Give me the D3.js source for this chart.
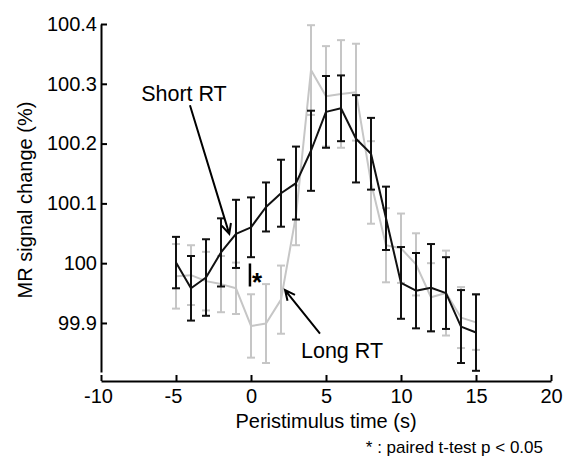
<!DOCTYPE html>
<html>
<head>
<meta charset="utf-8">
<script src="https://cdn.jsdelivr.net/npm/d3@7"></script>
<style>
  html, body { margin: 0; padding: 0; background: #fff; }
  svg { display: block; font-family: "Liberation Sans", Arial, sans-serif; }
</style>
</head>
<body>
<svg id="chart" width="567" height="457"></svg>
<script>
// ---- data ----
const times = [-5,-4,-3,-2,-1,0,1,2,3,4,5,6,7,8,9,10,11,12,13,14,15];
const shortMean = [100.001,99.958,99.976,100.018,100.049,100.060,100.094,100.117,100.134,100.188,100.253,100.259,100.208,100.183,100.075,99.967,99.954,99.959,99.950,99.894,99.884];
const shortErr  = [0.043,0.054,0.064,0.057,0.057,0.050,0.041,0.056,0.061,0.067,0.060,0.055,0.073,0.060,0.053,0.060,0.063,0.073,0.060,0.061,0.064];
const longMean  = [99.978,99.980,99.970,99.965,99.958,99.895,99.899,99.939,100.080,100.323,100.279,100.283,100.286,100.135,100.030,100.025,99.998,99.943,99.950,99.909,99.901];
const longErr   = [0.054,0.050,0.049,0.047,0.043,0.053,0.066,0.057,0.050,0.075,0.084,0.090,0.081,0.069,0.062,0.058,0.052,0.057,0.071,0.051,0.046];
const xTicks = [-10,-5,0,5,10,15,20];
const xTickLabels = ["-10","-5","0","5","10","15","20"];
const yTicks = [99.9,100,100.1,100.2,100.3,100.4];
const yTickLabels = ["99.9","100","100.1","100.2","100.3","100.4"];

const svg = d3.select("#chart");
const x = d3.scaleLinear().domain([-10, 20]).range([101, 551]);
const y = d3.scaleLinear().domain([99.818, 100.4]).range([372, 24]);

// ---- axes (inward ticks, offset like MATLAB) ----
const xAxisY = 381;
const gx = svg.append("g").attr("transform", `translate(0,${xAxisY})`)
  .call(d3.axisBottom(x).tickValues(xTicks).tickSizeInner(-6).tickSizeOuter(0).tickPadding(12)
    .tickFormat((d, i) => xTickLabels[i]));
gx.select(".domain").attr("stroke", "#000").attr("stroke-width", 2);
gx.selectAll(".tick line").attr("stroke", "#000").attr("stroke-width", 2);
gx.selectAll(".tick text").attr("font-size", 20).attr("fill", "#000")
  .attr("dx", d => d < 0 ? -3 : 0).attr("dy", "0.71em").attr("y", 8);

const gy = svg.append("g").attr("transform", `translate(${x(-10)},0)`)
  .call(d3.axisLeft(y).tickValues(yTicks).tickSizeInner(-6).tickSizeOuter(0).tickPadding(10)
    .tickFormat((d, i) => yTickLabels[i]));
gy.select(".domain").attr("stroke", "#000").attr("stroke-width", 2);
gy.selectAll(".tick line").attr("stroke", "#000").attr("stroke-width", 2);
gy.selectAll(".tick text").attr("font-size", 20).attr("fill", "#000").attr("x", -4);

// axis titles
svg.append("text").attr("x", 326).attr("y", 428).attr("text-anchor", "middle")
  .attr("font-size", 20).text("Peristimulus time (s)");
svg.append("text").attr("transform", "translate(32,200) rotate(-90)").attr("text-anchor", "middle")
  .attr("font-size", 20).text("MR signal change (%)");
svg.append("text").attr("x", 543).attr("y", 453).attr("text-anchor", "end")
  .attr("font-size", 17).text("* : paired t-test p < 0.05");

// ---- series ----
function drawSeries(mean, err, color) {
  const g = svg.append("g");
  const capW = 4;
  times.forEach((t, i) => {
    const cx = x(t), y1 = y(mean[i] + err[i]), y2 = y(mean[i] - err[i]);
    g.append("line").attr("x1", cx).attr("x2", cx).attr("y1", y1).attr("y2", y2)
      .attr("stroke", color).attr("stroke-width", 2);
    [y1, y2].forEach(yy => g.append("line").attr("x1", cx - capW).attr("x2", cx + capW)
      .attr("y1", yy).attr("y2", yy).attr("stroke", color).attr("stroke-width", 2));
  });
  const line = d3.line().x((d, i) => x(times[i])).y(d => y(d));
  g.append("path").datum(mean).attr("d", line).attr("fill", "none")
    .attr("stroke", color).attr("stroke-width", 2).attr("stroke-linejoin", "round");
}
drawSeries(longMean, longErr, "#c6c6c6");
drawSeries(shortMean, shortErr, "#111");

// ---- annotations ----
function arrow(x0, y0, x1, y1) {
  const px0 = x(x0), py0 = y(y0), px1 = x(x1), py1 = y(y1);
  const ang = Math.atan2(py1 - py0, px1 - px0);
  const L = 11, a = 0.45;
  const p = d3.path();
  p.moveTo(px0, py0); p.lineTo(px1, py1);
  p.moveTo(px1 - L * Math.cos(ang - a), py1 - L * Math.sin(ang - a));
  p.lineTo(px1, py1);
  p.lineTo(px1 - L * Math.cos(ang + a), py1 - L * Math.sin(ang + a));
  svg.append("path").attr("d", p.toString()).attr("fill", "none")
    .attr("stroke", "#000").attr("stroke-width", 2);
}
svg.append("text").attr("x", x(-4.47)).attr("y", y(100.272)).attr("text-anchor", "middle")
  .attr("font-size", 21.5).text("Short RT");
arrow(-4.07, 100.264, -1.45, 100.049);

svg.append("text").attr("x", x(6.07)).attr("y", y(99.842)).attr("text-anchor", "middle")
  .attr("font-size", 21.5).text("Long RT");
arrow(4.6, 99.882, 2.27, 99.955);

// significance marker
svg.append("line").attr("x1", x(-0.07)).attr("x2", x(-0.07))
  .attr("y1", y(99.9995)).attr("y2", y(99.961)).attr("stroke", "#000").attr("stroke-width", 2.5);
svg.append("text").attr("x", x(0.4)).attr("y", y(99.954)).attr("text-anchor", "middle")
  .attr("font-size", 26).attr("font-weight", "bold").text("*");
</script>
</body>
</html>
